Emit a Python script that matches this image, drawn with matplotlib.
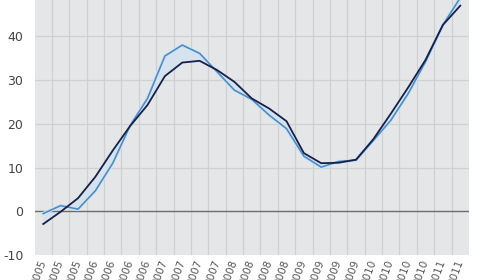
import matplotlib
matplotlib.use('Agg')
import matplotlib.pyplot as plt
import matplotlib.patheffects as pe

# quarterly labels, 2005 Q2 .. 2011 Q2
quarters = ['2005'] * 3 + ['2006'] * 4 + ['2007'] * 4 + ['2008'] * 4 \
    + ['2009'] * 4 + ['2010'] * 4 + ['2011'] * 2

series_dark = [-2.9, -0.1, 3.0, 7.9, 13.9, 19.5, 24.3, 30.9, 34.0, 34.4,
               32.3, 29.6, 25.8, 23.5, 20.6, 13.3, 11.0, 11.1, 11.8, 16.5,
               22.3, 28.3, 34.6, 42.6, 47.0]
series_light = [-0.5, 1.3, 0.5, 4.7, 11.0, 19.6, 25.8, 35.5, 38.0, 36.1,
                31.9, 27.7, 25.6, 22.0, 18.9, 12.6, 10.1, 11.4, 11.7, 16.2,
                20.8, 26.9, 34.2, 42.6, 48.8]

yticks = [-10, 0, 10, 20, 30, 40]


def main():
    plt.rcParams['axes.unicode_minus'] = False
    fig = plt.figure(figsize=(4.8, 2.8), dpi=100)
    ax = fig.add_axes([0.072, 0.089, 0.905, 0.911])
    ax.set_facecolor('#e5e6e8')

    x = list(range(len(quarters)))

    ax.fill_between(x, series_dark, series_light, color='#d6e2ee', lw=0, zorder=2)
    ax.axhline(0, color='#6e6e6e', lw=1.0, zorder=3)

    ax.plot(x, series_light, color='#4a8dc6', lw=1.2, zorder=4,
            path_effects=[pe.Stroke(linewidth=2.6, foreground='#d4e4f2'), pe.Normal()])
    ax.plot(x, series_dark, color='#17204a', lw=1.3, zorder=5)

    ax.set_xlim(-0.5, len(quarters) - 0.5)
    ax.set_ylim(-10, 48.3)

    # gridlines between quarters
    for b in range(len(quarters) - 1):
        ax.axvline(b + 0.5, color='#cfd0d2', lw=0.9, zorder=1)
    for t in yticks[1:]:
        ax.axhline(t, color='#cfd0d2', lw=0.9, zorder=1)

    ax.set_yticks(yticks)
    ax.set_xticks(x)
    ax.set_xticklabels(quarters, rotation=70, ha='right', va='center',
                       rotation_mode='anchor', fontsize=7.5, color='#555555')
    ax.tick_params(axis='x', length=0, pad=4)
    ax.tick_params(axis='y', length=0, pad=8, labelsize=9, labelcolor='#444444')

    for s in ax.spines.values():
        s.set_visible(False)

    fig.savefig('out.png', dpi=100)


if __name__ == "__main__":
    main()
